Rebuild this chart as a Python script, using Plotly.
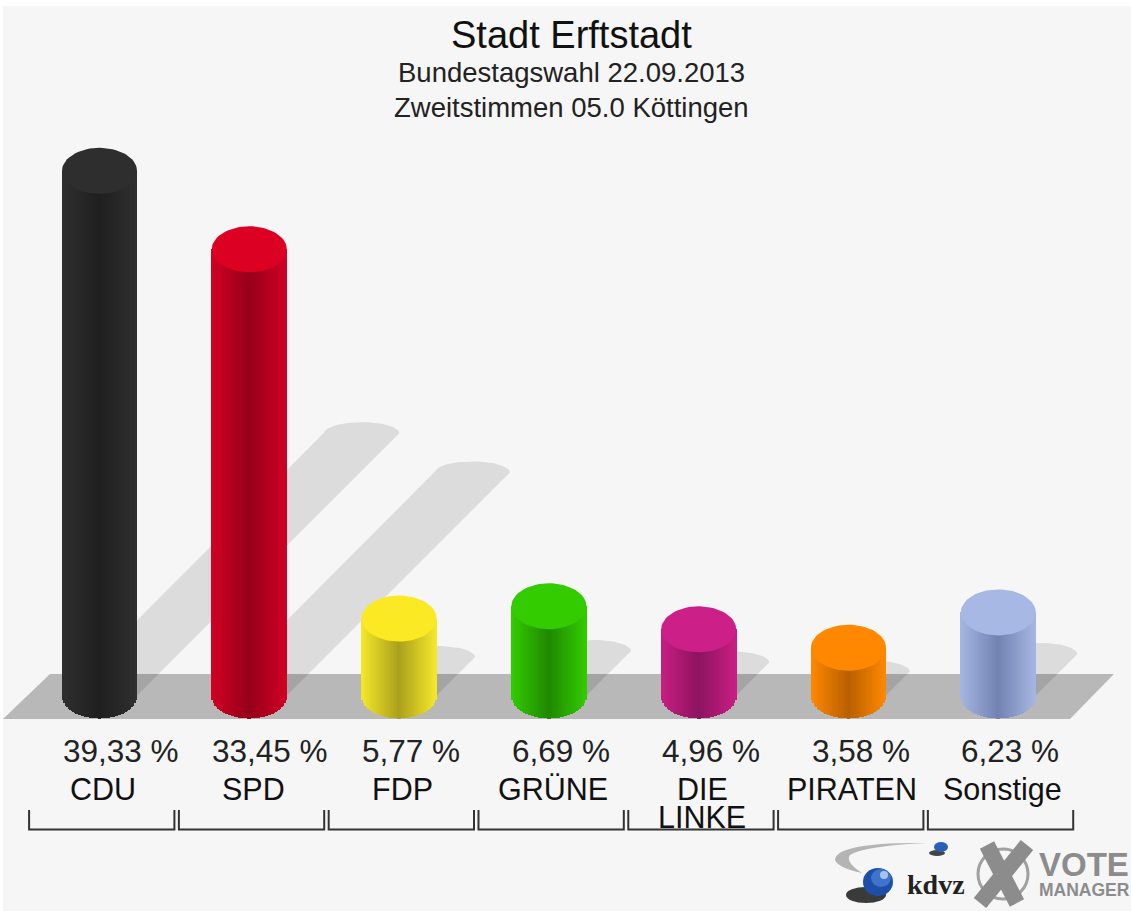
import math
import plotly.graph_objects as go

parties = ["CDU", "SPD", "FDP", "GRÜNE", "DIE<br>LINKE", "PIRATEN", "Sonstige"]
values = [39.33, 33.45, 5.77, 6.69, 4.96, 3.58, 6.23]
value_labels = ["39,33 %", "33,45 %", "5,77 %", "6,69 %", "4,96 %", "3,58 %", "6,23 %"]
edge_colors = ["#2f2f2f", "#d00024", "#f5e82a", "#33cc00", "#c81e82", "#ff8800", "#a6b6e2"]
dark_colors = ["#1f1f1f", "#950019", "#aba01c", "#1f8800", "#8c1460", "#b86000", "#7283b2"]
top_colors = ["#2e2e2e", "#dc0023", "#fbea23", "#33cc00", "#cc2088", "#ff8800", "#a8b8e4"]

W, H = 1131, 911
PX_X = 149.8
PX_Y = 13.34
X0 = 99.5
Y0 = 695.5
RX = 37.5 / PX_X
RY = 23.0 / PX_Y
RY_SHADOW = 11.0 / PX_Y
FONT = "Liberation Sans"
N_STRIPS = 50


def hexrgb(c):
    return [int(c[i:i + 2], 16) for i in (1, 3, 5)]


def mix(a, b, t):
    ca, cb = hexrgb(a), hexrgb(b)
    return "rgb(%d,%d,%d)" % tuple(round(p + (q - p) * t) for p, q in zip(ca, cb))


def px(x):
    return (x - X0) / PX_X


def py(y):
    return (Y0 - y) / PX_Y


fig = go.Figure()

# page background
fig.add_shape(type="rect", xref="paper", yref="paper", x0=3 / W, x1=1, y0=0, y1=1 - 6 / H,
              fillcolor="#f6f6f6", line_width=0, layer="below")

# floor
fig.add_trace(go.Scatter(x=[px(3), px(50), px(1114), px(1070), px(3)],
                         y=[py(719), py(674), py(674), py(719), py(719)],
                         mode="lines", fill="toself", fillcolor="#b8b8b8", line_width=0,
                         hoverinfo="skip", showlegend=False))

# shadows
for i, v in enumerate(values):
    sx = i + v * PX_Y / 2 / PX_X
    sy = v / 2
    xs = [i - RX]
    ys = [0.0]
    for k in range(41):
        a = math.pi * k / 40
        xs.append(sx - RX * math.cos(a))
        ys.append(sy + RY_SHADOW * math.sin(a))
    xs.append(i + RX)
    ys.append(0.0)
    fig.add_trace(go.Scatter(x=xs, y=ys, mode="lines", fill="toself",
                             fillcolor="rgba(0,0,0,0.105)", line_width=0,
                             hoverinfo="skip", showlegend=False))

# cylinders (second, overlaying subplot so they sit above floor and shadows)
sw = 2 * RX / N_STRIPS
for i, v in enumerate(values):
    xs, bases, heights, colors = [], [], [], []
    for k in range(N_STRIPS):
        t = -1 + (2 * k + 1) / N_STRIPS
        xs.append(i + t * RX)
        b = -RY * math.sqrt(max(0.0, 1 - t * t))
        bases.append(b)
        heights.append(v - b)
        colors.append(mix(dark_colors[i], edge_colors[i], abs(t)))
    fig.add_trace(go.Bar(x=xs, y=heights, base=bases, width=sw * 1.5, marker_color=colors,
                         marker_line_width=0, hoverinfo="skip", showlegend=False,
                         xaxis="x2", yaxis="y2"))
    ex, ey = [], []
    for k in range(73):
        a = 2 * math.pi * k / 72
        ex.append(i + RX * math.cos(a))
        ey.append(v + RY * math.sin(a))
    fig.add_trace(go.Scatter(x=ex, y=ey, mode="lines", fill="toself", fillcolor=top_colors[i],
                             line_width=0, hoverinfo="skip", showlegend=False,
                             xaxis="x2", yaxis="y2"))

# brackets
for i in range(len(parties)):
    l, r = i - 0.47, i + 0.5
    fig.add_trace(go.Scatter(x=[l, l, r, r], y=[py(810), py(829.5), py(829.5), py(810)], mode="lines",
                             line=dict(color="#333333", width=2), hoverinfo="skip",
                             showlegend=False))

# value and party labels
for i, (lab, name) in enumerate(zip(value_labels, parties)):
    fig.add_annotation(x=i - RX - 1.5 / PX_X, y=py(751), text=lab, showarrow=False, xanchor="left",
                       yanchor="middle", font=dict(family=FONT, size=31.5, color="#222222"))
    for j, part in enumerate(name.split("<br>")):
        fig.add_annotation(x=i + 0.025, y=py(789 + 28 * j), text=part, showarrow=False,
                           xanchor="center", yanchor="middle",
                           font=dict(family=FONT, size=30.5, color="#111111"))


def note(x, y, text, family, size, color):
    fig.add_annotation(xref="paper", yref="paper", x=x / W, y=1 - y / H, text=text, showarrow=False,
                       xanchor="center", yanchor="middle",
                       font=dict(family=family, size=size, color=color))


# titles
note(571, 35, "Stadt Erftstadt", FONT, 38, "#111111")
note(571, 72, "Bundestagswahl 22.09.2013", FONT, 27.5, "#222222")
note(571, 107, "Zweitstimmen 05.0 Köttingen", FONT, 27.5, "#222222")


# logo
def pshape(**k):
    fig.add_shape(xref="paper", yref="paper", **k)


def P(x, y):
    return "%.4f %.4f" % (x / W, 1 - y / H)


pshape(type="path", path="M %s Q %s %s Q %s %s Q %s %s Q %s %s Z" % (
    P(927, 843), P(836, 842), P(835, 860), P(838, 868), P(862, 873),
    P(845, 862), P(850, 855), P(865, 846), P(927, 843)),
    fillcolor="#b4b4b4", line_width=0)
for (cx, cy, rx, ry, c) in [(866, 895, 20, 8, "#3a3a3a"), (878, 882, 15, 14, "#1e4fa8"),
                            (881, 878, 10, 9, "#3f74cc"), (884, 875, 4, 4, "#a9c4ec"),
                            (937, 853, 8, 3, "#444444"), (941, 847, 7, 5, "#2a5fb8")]:
    pshape(type="circle", x0=(cx - rx) / W, x1=(cx + rx) / W, y0=1 - (cy + ry) / H,
           y1=1 - (cy - ry) / H, fillcolor=c, line_width=0)
pshape(type="circle", x0=978 / W, x1=1028 / W, y0=1 - 899 / H, y1=1 - 849 / H,
       line=dict(color="#a0a0a0", width=3))
for (a, b) in [((987, 845), (1017, 903)), ((1027, 845), (980, 903))]:
    pshape(type="line", x0=a[0] / W, y0=1 - a[1] / H, x1=b[0] / W, y1=1 - b[1] / H,
           line=dict(color="#8c8c8c", width=16))
note(936, 884, "<b>kdvz</b>", "Liberation Serif", 28, "#222222")
note(1084, 864, "<b>VOTE</b>", FONT, 33, "#8c8c8c")
note(1084, 890, "<b>MANAGER</b>", FONT, 17.5, "#8c8c8c")

xr = [px(0), px(W)]
yr = [py(H), py(0)]
fig.update_layout(width=W, height=H, margin=dict(l=0, r=0, t=0, b=0), paper_bgcolor="white",
                  plot_bgcolor="rgba(0,0,0,0)", barmode="overlay", bargap=0, showlegend=False,
                  xaxis=dict(range=xr, visible=False, fixedrange=True),
                  yaxis=dict(range=yr, visible=False, fixedrange=True),
                  xaxis2=dict(range=xr, visible=False, fixedrange=True, overlaying="x"),
                  yaxis2=dict(range=yr, visible=False, fixedrange=True, overlaying="y"))
fig.write_html("out.html", config={"displayModeBar": False},
               post_script="document.body.style.margin='0';document.body.style.overflow='hidden';")
